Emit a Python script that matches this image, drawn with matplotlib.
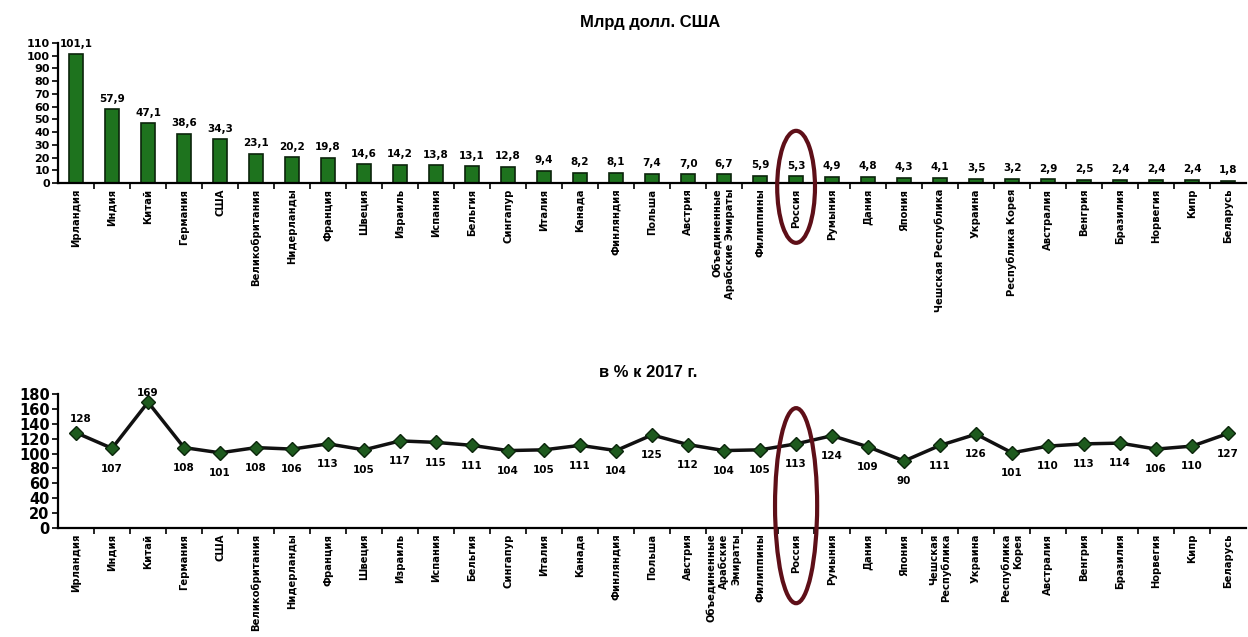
import matplotlib
matplotlib.use('Agg')
import matplotlib.pyplot as plt
from matplotlib import font_manager as fm
from matplotlib.patches import Ellipse
import numpy as np

# Страны, объём (млрд долл. США) и темп роста (в % к 2017 г.)
countries = [
    'Ирландия', 'Индия', 'Китай', 'Германия', 'США', 'Великобритания',
    'Нидерланды', 'Франция', 'Швеция', 'Израиль', 'Испания', 'Бельгия',
    'Сингапур', 'Италия', 'Канада', 'Финляндия', 'Польша', 'Австрия',
    'Объединенные\nАрабские Эмираты', 'Филиппины', 'Россия', 'Румыния',
    'Дания', 'Япония', 'Чешская Республика', 'Украина', 'Республика Корея',
    'Австралия', 'Венгрия', 'Бразилия', 'Норвегия', 'Кипр', 'Беларусь',
]
volume_bn = [
    101.1, 57.9, 47.1, 38.6, 34.3, 23.1, 20.2, 19.8, 14.6, 14.2, 13.8,
    13.1, 12.8, 9.4, 8.2, 8.1, 7.4, 7.0, 6.7, 5.9, 5.3, 4.9, 4.8, 4.3,
    4.1, 3.5, 3.2, 2.9, 2.5, 2.4, 2.4, 2.4, 1.8,
]
growth_pct = [
    128, 107, 169, 108, 101, 108, 106, 113, 105, 117, 115, 111, 104, 105,
    111, 104, 125, 112, 104, 105, 113, 124, 109, 90, 111, 126, 101, 110,
    113, 114, 106, 110, 127,
]
highlight = 'Россия'

# узкий шрифт для подписей стран, если он есть
narrow = [f.name for f in fm.fontManager.ttflist if f.stretch == 'condensed']
if 'Liberation Sans Narrow' in narrow:
    label_kw = dict(family=['Liberation Sans Narrow', 'DejaVu Sans'],
                    fontsize=9)
elif 'DejaVu Sans' in narrow:
    label_kw = dict(family=['DejaVu Sans'], fontstretch='condensed',
                    fontsize=8)
else:
    label_kw = dict(family=['DejaVu Sans'], fontsize=7)

num_font = ['DejaVu Sans']
x = np.arange(len(countries))
hx = countries.index(highlight)


def wrap(name, width=14):
    # длинные строки переносим по пробелам, чтобы подпись влезла по высоте
    lines = []
    for line in name.split('\n'):
        lines.extend(line.split(' ') if len(line) > width else [line])
    return '\n'.join(lines)


def style_axis(ax, ymax, ystep, ysize, labels):
    ax.set_xlim(-0.5, len(countries) - 0.5)
    ax.set_ylim(0, ymax)
    ax.set_yticks(np.arange(0, ymax + 1, ystep))
    for side in ('top', 'right'):
        ax.spines[side].set_visible(False)
    for side in ('left', 'bottom'):
        ax.spines[side].set_linewidth(1.6)
    ax.set_xticks(x)
    ax.set_xticklabels(labels, rotation=90, ha='center', va='top',
                       multialignment='right', fontweight='bold', **label_kw)
    ax.set_xticks(x[:-1] + 0.5, minor=True)
    ax.tick_params(axis='x', which='major', length=0, pad=4)
    ax.tick_params(axis='x', which='minor', length=4, width=1.2)
    ax.tick_params(axis='y', length=4, width=1.2, pad=2)
    for t in ax.get_yticklabels():
        t.set_family(num_font)
        t.set_fontweight('bold')
        t.set_fontsize(ysize)


fig = plt.figure(figsize=(12.48, 6.37), dpi=100)

# Верхний график: объём, столбцы
ax1 = fig.add_axes([0.0465, 0.7127, 0.952, 0.2198])
ax1.bar(x, volume_bn, width=0.4, color='#1e731e', edgecolor='#0b240b',
        linewidth=1.2, zorder=2)
style_axis(ax1, 110, 10, 8, countries)
for xi, v in zip(x, volume_bn):
    ax1.annotate(f'{v:.1f}'.replace('.', ','), (xi, v), xytext=(0, 4),
                 textcoords='offset points', ha='center', va='bottom',
                 family=num_font, fontweight='bold', fontsize=7.5)
ax1.add_patch(Ellipse((hx, -3), 1.05, 88, fill=False, edgecolor='#5e0f18',
                      linewidth=3, clip_on=False, zorder=5))

# Нижний график: темп роста, линия
ax2 = fig.add_axes([0.0465, 0.1711, 0.952, 0.2104])
ax2.plot(x, growth_pct, color='#111111', linewidth=2.5, marker='D',
         markersize=7, markerfacecolor='#1e5a1e', markeredgecolor='#0b260b',
         zorder=3)
style_axis(ax2, 180, 20, 10.5, [wrap(c) for c in countries])
above = {'Ирландия': (3, 6), 'Китай': (0, 3)}
for name, xi, v in zip(countries, x, growth_pct):
    dx, dy = above.get(name, (0, -11))
    ax2.annotate(str(v), (xi, v), xytext=(dx, dy), textcoords='offset points',
                 ha='center', va='bottom' if name in above else 'top',
                 family=num_font, fontweight='bold', fontsize=7.5)
ax2.add_patch(Ellipse((hx, 30), 1.17, 262, fill=False, edgecolor='#5e0f18',
                      linewidth=3, clip_on=False, zorder=5))

fig.text(650 / 1248, 1 - 23 / 637, 'Млрд долл. США', ha='center', va='center',
         family=['Liberation Sans'], fontweight='bold', fontsize=12)
fig.text(648 / 1248, 1 - 372 / 637, 'в % к 2017 г.', ha='center', va='center',
         family=['Liberation Sans'], fontweight='bold', fontsize=12)

fig.savefig('out.png', dpi=100)
